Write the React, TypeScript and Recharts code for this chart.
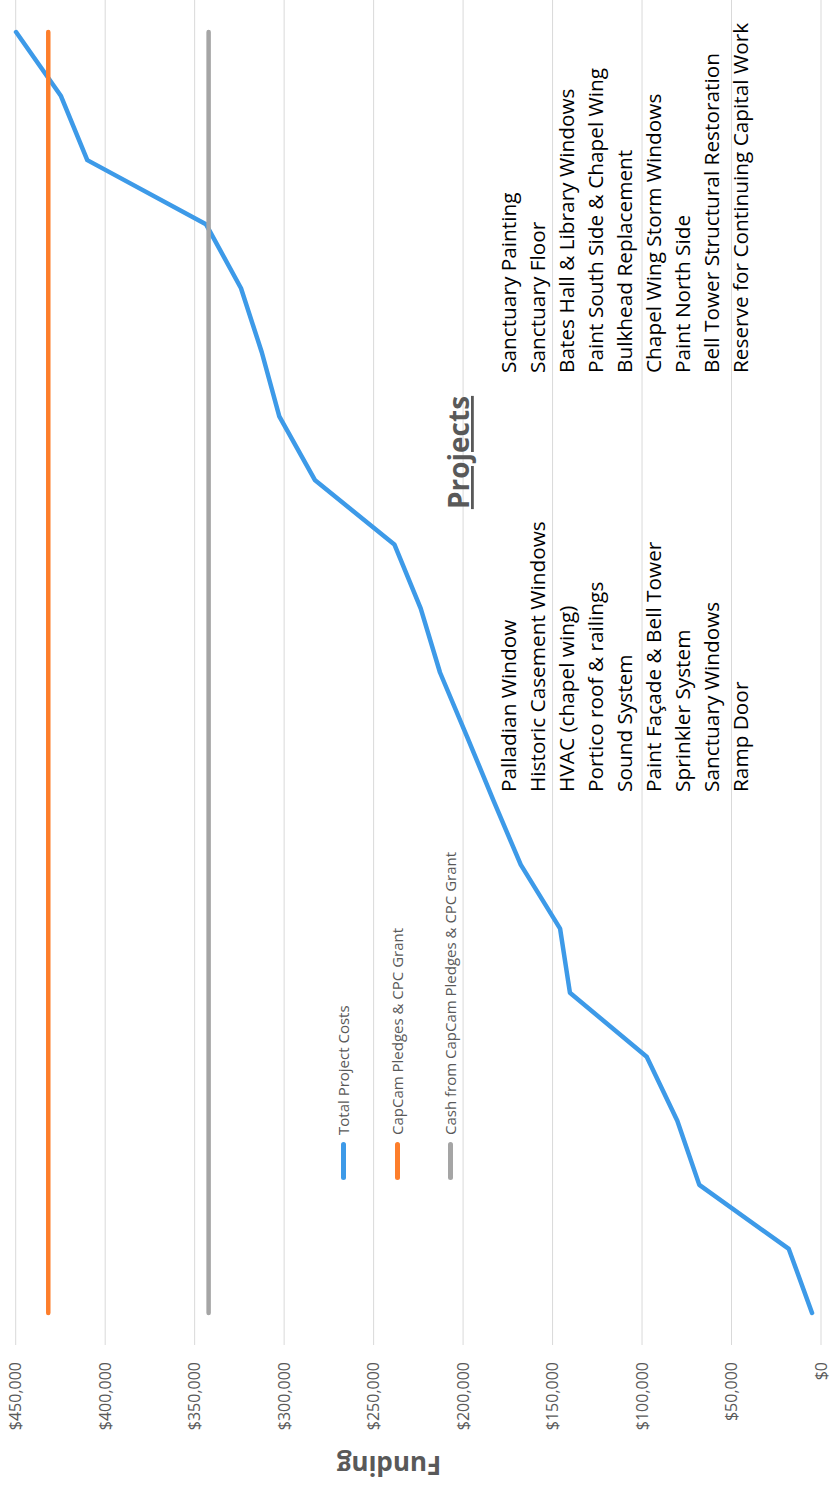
import React from 'react';
import { LineChart, Line, XAxis, YAxis, CartesianGrid, Legend } from 'recharts';

// ---------- data ----------
const STEPS = [1, 2, 3, 4, 5, 6, 7, 8, 9, 10, 11, 12, 13, 14, 15, 16, 17, 18, 19, 20, 21];
const TOTAL_PROJECT_COSTS = [
  5000, 18000, 68000, 80300, 97400, 140300, 145800, 167800, 183000, 197800, 212900,
  223700, 238400, 282700, 302700, 312500, 324100, 343700, 410000, 424700, 449800,
];
const CAPCAM_PLEDGES_CPC_GRANT = 431800;
const CASH_FROM_PLEDGES_CPC_GRANT = 342200;
const VALUE_TICKS = [0, 50000, 100000, 150000, 200000, 250000, 300000, 350000, 400000, 450000];
const SERIES_NAMES = [
  'Total Project Costs',
  'CapCam Pledges & CPC Grant',
  'Cash from CapCam Pledges & CPC Grant',
];
const PROJECTS_COL1 = [
  'Palladian Window',
  'Historic Casement Windows',
  'HVAC (chapel wing)',
  'Portico roof & railings',
  'Sound System',
  'Paint Façade & Bell Tower',
  'Sprinkler System',
  'Sanctuary Windows',
  'Ramp Door',
];
const PROJECTS_COL2 = [
  'Sanctuary Painting',
  'Sanctuary Floor',
  'Bates Hall & Library Windows',
  'Paint South Side & Chapel Wing',
  'Bulkhead Replacement',
  'Chapel Wing Storm Windows',
  'Paint North Side',
  'Bell Tower Structural Restoration',
  'Reserve for Continuing Capital Work',
];

const data = STEPS.map((step, i) => ({
  step,
  total: TOTAL_PROJECT_COSTS[i],
  pledges: CAPCAM_PLEDGES_CPC_GRANT,
  cash: CASH_FROM_PLEDGES_CPC_GRANT,
}));

// ---------- styles ----------
const W = 1494; // landscape chart width (rotated onto page height)
const H = 830;
const FONT = "'Open Sans', sans-serif";
const TEXT_GRAY = '#595959';
const BLUE = '#3d9ae8';
const ORANGE = '#fd7e2b';
const GRAY = '#a5a5a5';
const LEGEND_ROWS_Y = [343, 397, 450];

const FundingLabel = () => (
  <text
    x={0}
    y={0}
    transform="translate(38, 389) rotate(-90)"
    textAnchor="middle"
    fill={TEXT_GRAY}
    fontFamily={FONT}
    fontSize={26}
    fontWeight={700}
  >
    Funding
  </text>
);

const renderLegend = (props: any) => {
  const payload: any[] = (props && props.payload) || [];
  const ordered = [...payload].sort(
    (a, b) => SERIES_NAMES.indexOf(a.value) - SERIES_NAMES.indexOf(b.value)
  );
  return (
    <div style={{ position: 'relative', width: W, height: H, pointerEvents: 'none' }}>
      {ordered.map((entry, i) => (
        <div
          key={entry.value}
          style={{
            position: 'absolute',
            left: 314,
            top: LEGEND_ROWS_Y[i] - 12,
            height: 24,
            display: 'flex',
            alignItems: 'center',
            whiteSpace: 'nowrap',
          }}
        >
          <span
            style={{
              display: 'inline-block',
              width: 38,
              height: 5,
              borderRadius: 2.5,
              background: entry.color,
            }}
          />
          <span
            style={{
              marginLeft: 7,
              fontSize: 15,
              lineHeight: '24px',
              color: TEXT_GRAY,
              fontFamily: FONT,
            }}
          >
            {entry.value}
          </span>
        </div>
      ))}
    </div>
  );
};

const ROW_BASE = 515.5;
const ROW_STEP = 29.1;
const LIST_FONT_SIZE = 20.8;

export default function App() {
  return (
    <div style={{ position: 'relative', width: 830, height: 1494, overflow: 'hidden', background: '#fff' }}>
      <style>{'body{margin:0;}'}</style>
      <div
        style={{
          position: 'absolute',
          left: 0,
          top: 0,
          width: W,
          height: H,
          transformOrigin: '0 0',
          transform: `translate(0px, ${W}px) rotate(-90deg)`,
        }}
      >
        <LineChart
          width={W}
          height={H}
          data={data}
          margin={{ top: 15.7, right: 0, bottom: 9, left: 0 }}
        >
          <CartesianGrid horizontal vertical={false} stroke="#d9d9d9" strokeWidth={1} />
          <XAxis
            type="number"
            dataKey="step"
            domain={[0.5, 21.5]}
            allowDataOverflow
            hide
          />
          <YAxis
            type="number"
            domain={[0, 450000]}
            ticks={VALUE_TICKS}
            interval={0}
            width={149}
            axisLine={false}
            tickLine={false}
            tickSize={0}
            tickMargin={17}
            tickFormatter={(v: number) => '$' + v.toLocaleString('en-US')}
            tick={{ fill: TEXT_GRAY, fontSize: 16, fontFamily: FONT }}
            label={<FundingLabel />}
          />
          <Legend
            layout="vertical"
            align="center"
            verticalAlign="middle"
            content={renderLegend}
            wrapperStyle={{ left: 0, top: 0, width: W, height: H, pointerEvents: 'none' }}
          />
          <Line
            type="linear"
            dataKey="total"
            name={SERIES_NAMES[0]}
            stroke={BLUE}
            strokeWidth={4.5}
            strokeLinecap="round"
            strokeLinejoin="round"
            dot={false}
            activeDot={false}
            isAnimationActive={false}
          />
          <Line
            type="linear"
            dataKey="pledges"
            name={SERIES_NAMES[1]}
            stroke={ORANGE}
            strokeWidth={4.5}
            strokeLinecap="round"
            dot={false}
            activeDot={false}
            isAnimationActive={false}
          />
          <Line
            type="linear"
            dataKey="cash"
            name={SERIES_NAMES[2]}
            stroke={GRAY}
            strokeWidth={4.5}
            strokeLinecap="round"
            dot={false}
            activeDot={false}
            isAnimationActive={false}
          />
        </LineChart>
        <svg
          width={W}
          height={H}
          style={{ position: 'absolute', left: 0, top: 0, pointerEvents: 'none' }}
        >
          <text
            x={1041.5}
            y={469}
            textAnchor="middle"
            fontFamily={FONT}
            fontSize={28}
            fontWeight={700}
            fill={TEXT_GRAY}
            textDecoration="underline"
            style={{ textDecoration: 'underline' }}
          >
            Projects
          </text>
          {PROJECTS_COL1.map((p, i) => (
            <text
              key={'c1' + i}
              x={702}
              y={ROW_BASE + i * ROW_STEP}
              fontFamily={FONT}
              fontSize={LIST_FONT_SIZE}
              fill="#000"
            >
              {p}
            </text>
          ))}
          {PROJECTS_COL2.map((p, i) => (
            <text
              key={'c2' + i}
              x={1121}
              y={ROW_BASE + i * ROW_STEP}
              fontFamily={FONT}
              fontSize={LIST_FONT_SIZE}
              fill="#000"
            >
              {p}
            </text>
          ))}
        </svg>
      </div>
    </div>
  );
}
